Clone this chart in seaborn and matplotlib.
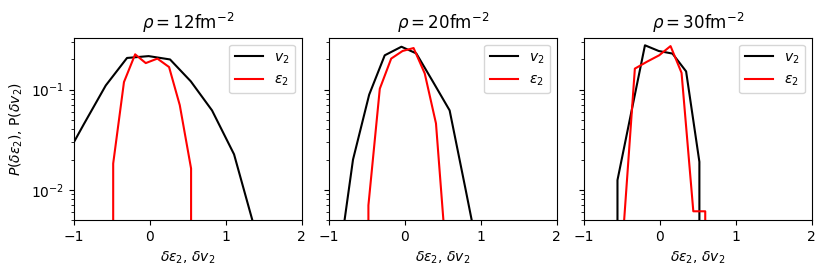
import matplotlib
matplotlib.use("Agg")
import matplotlib.pyplot as plt
import seaborn as sns

# panel titles
densities = [12, 20, 30]

# rho = 12 fm^-2
v2_x_12 = [-1.16, -0.87, -0.58, -0.30, -0.015, 0.267, 0.54, 0.82, 1.11, 1.39]
v2_y_12 = [0.018, 0.045, 0.110, 0.207, 0.216, 0.200, 0.121, 0.062, 0.0226, 0.0039]
e2_x_12 = [-0.63, -0.482, -0.340, -0.193, -0.053, 0.100, 0.254, 0.395, 0.544, 0.69]
e2_y_12 = [0.0, 0.0183, 0.119, 0.225, 0.184, 0.204, 0.168, 0.070, 0.0163, 0.0]

# rho = 20 fm^-2
v2_x_20 = [-0.89, -0.683, -0.47, -0.265, -0.045, 0.15, 0.37, 0.59, 0.80, 1.01]
v2_y_20 = [0.0015, 0.020, 0.089, 0.220, 0.268, 0.230, 0.120, 0.062, 0.0101, 0.0016]
e2_x_20 = [-0.63, -0.48, -0.33, -0.18, -0.03, 0.115, 0.262, 0.41, 0.555]
e2_y_20 = [0.0, 0.0070, 0.102, 0.204, 0.243, 0.260, 0.145, 0.046, 0.0017]

# rho = 30 fm^-2
v2_x_30 = [-0.74, -0.559, -0.378, -0.197, -0.016, 0.165, 0.345, 0.520, 0.70]
v2_y_30 = [0.0, 0.0125, 0.059, 0.277, 0.243, 0.229, 0.152, 0.019, 0.0]
e2_x_30 = [-0.48, -0.33, -0.17, -0.01, 0.14, 0.285, 0.44, 0.597, 0.75]
e2_y_30 = [0.004, 0.162, 0.19, 0.22, 0.272, 0.147, 0.0061, 0.0061, 0.0]

v2_series = [(v2_x_12, v2_y_12), (v2_x_20, v2_y_20), (v2_x_30, v2_y_30)]
e2_series = [(e2_x_12, e2_y_12), (e2_x_20, e2_y_20), (e2_x_30, e2_y_30)]

# plain matplotlib look
sns.reset_orig()
plt.rcParams['font.family'] = ['DejaVu Sans']

fig, axes = plt.subplots(1, 3, figsize=(8.3, 2.77), dpi=100, sharey=True)
fig.subplots_adjust(left=0.089, right=0.978, top=0.864, bottom=0.206, wspace=0.12)

for i, ax in enumerate(axes):
    vx, vy = v2_series[i]
    ex, ey = e2_series[i]
    sns.lineplot(x=vx, y=vy, color="black", lw=1.5, label="$v_2$", ax=ax)
    sns.lineplot(x=ex, y=ey, color="red", lw=1.5, label="$\\epsilon_2$", ax=ax)
    ax.set_yscale("log")
    ax.set_xlim(-1, 2)
    ax.set_ylim(0.005, 0.33)
    ax.set_xticks([-1, 0, 1, 2])
    ax.set_title(f"$\\rho = {densities[i]} \\mathrm{{fm}}^{{-2}}$", fontsize=12)
    ax.set_xlabel("$\\delta\\epsilon_2$, $\\delta v_2$")
    ax.legend(loc="upper right", fontsize=10)

axes[0].set_ylabel("$P(\\delta\\epsilon_2)$, P($\\delta v_2$)")

fig.savefig("out.png", dpi=100)
